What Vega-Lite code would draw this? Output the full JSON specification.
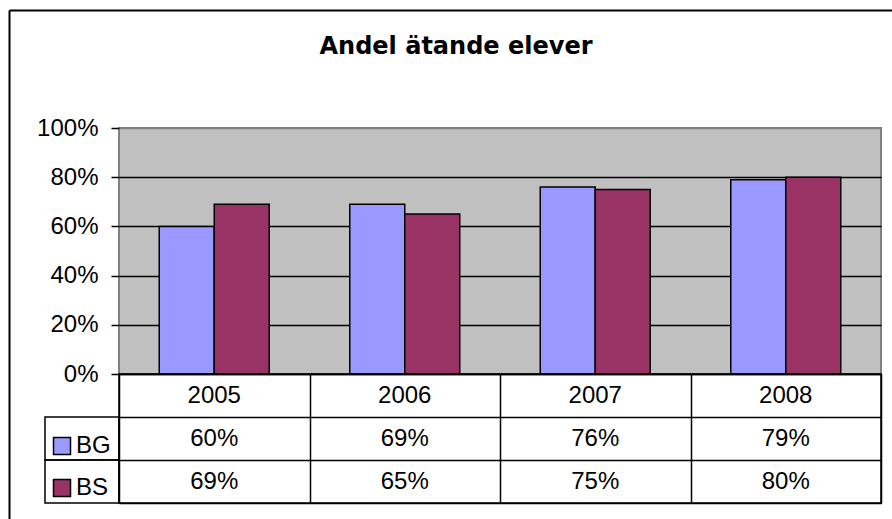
{
  "$schema": "https://vega.github.io/schema/vega-lite/v6.json",
  "autosize": {"type": "pad"},
  "padding": {"left": 9, "top": 10, "right": 0, "bottom": 0},
  "background": "white",
  "datasets": {
    "d": [
      {"year": "2005", "series": "BG", "value": 0.60},
      {"year": "2006", "series": "BG", "value": 0.69},
      {"year": "2007", "series": "BG", "value": 0.76},
      {"year": "2008", "series": "BG", "value": 0.79},
      {"year": "2005", "series": "BS", "value": 0.69},
      {"year": "2006", "series": "BS", "value": 0.65},
      {"year": "2007", "series": "BS", "value": 0.75},
      {"year": "2008", "series": "BS", "value": 0.80}
    ]
  },
  "data": {"name": "d"},
  "title": {"text": "Andel ätande elever", "fontSize": 24, "font": "DejaVu Sans", "fontWeight": "bold", "color": "black", "anchor": "middle", "offset": -49, "dx": -14},
  "columns": 2,
  "spacing": 0,
  "bounds": "flush",
  "align": "each",
  "resolve": {"scale": {"x": "independent", "y": "independent", "color": "shared"}},
  "config": {
    "font": "Liberation Sans",
    "axis": {"labelFont": "Liberation Sans", "labelFontSize": 24, "labelColor": "black"},
    "legend": {
      "orient": "none", "legendX": 5, "legendY": 306, "title": null,
      "symbolType": "square", "symbolSize": 289, "symbolStrokeColor": "black", "symbolStrokeWidth": 1.5,
      "labelFontSize": 24, "labelFont": "Liberation Sans", "labelColor": "black",
      "rowPadding": 18, "labelOffset": 2, "padding": 0
    }
  },
  "concat": [
    {
      "width": 74, "height": 246,
      "view": {"stroke": null},
      "mark": {"type": "text"},
      "encoding": {
        "text": {"value": ""},
        "x": {"field": "value", "type": "quantitative", "scale": {"domain": [0, 1], "range": [-36, 850]},
          "axis": {"orient": "top", "offset": 118, "labels": false, "ticks": false, "grid": false, "title": null, "domainColor": "black", "domainWidth": 2}},
        "y": {"field": "value", "type": "quantitative", "scale": {"domain": [0, 1], "range": [400, -118]},
          "axis": {"orient": "left", "offset": 36, "labels": false, "ticks": false, "grid": false, "title": null, "domainColor": "black", "domainWidth": 2}}
      }
    },
    {
      "width": 762, "height": 246,
      "view": {"fill": "#C0C0C0", "stroke": "#808080", "strokeWidth": 2},
      "mark": {"type": "bar", "stroke": "black", "strokeWidth": 1.5},
      "encoding": {
        "x": {"field": "year", "type": "nominal", "scale": {"paddingInner": 0, "paddingOuter": 0}, "axis": null},
        "xOffset": {"field": "series", "type": "nominal", "scale": {"domain": ["BG", "BS"], "paddingInner": 0, "paddingOuter": 0.732}},
        "y": {
          "field": "value", "type": "quantitative", "scale": {"domain": [0, 1]},
          "axis": {
            "values": [0, 0.2, 0.4, 0.6, 0.8, 1], "format": ".0%", "title": null,
            "grid": true, "gridWidth": 1.5,
            "gridColor": {"condition": {"test": "datum.value === 1", "value": "#808080"}, "value": "black"},
            "domain": false, "ticks": true, "tickColor": "black", "tickSize": 8, "tickWidth": 1.5,
            "labelPadding": 13
          }
        },
        "color": {"field": "series", "type": "nominal", "scale": {"domain": ["BG", "BS"], "range": ["#9999FF", "#993366"]}}
      }
    },
    {
      "width": 74, "height": 129,
      "view": {"stroke": null},
      "transform": [{"filter": "datum.year === '2005'"}],
      "mark": {"type": "rect", "fill": "transparent", "stroke": "black", "strokeWidth": 1.5},
      "encoding": {
        "y": {"field": "series", "type": "nominal", "scale": {"domain": ["hdr", "BG", "BS"], "paddingInner": 0, "paddingOuter": 0}, "axis": null}
      }
    },
    {
      "width": 762, "height": 129,
      "view": {"stroke": "black", "strokeWidth": 1.5},
      "encoding": {
        "x": {
          "field": "year", "type": "nominal", "scale": {"paddingInner": 0, "paddingOuter": 0},
          "axis": {"grid": true, "tickBand": "extent", "labels": false, "ticks": false, "domain": false, "gridColor": "black", "gridWidth": 1.5, "title": null}
        }
      },
      "layer": [
        {
          "transform": [{"filter": "datum.series === 'BG'"}],
          "mark": {"type": "text", "fontSize": 24, "font": "Liberation Sans", "color": "black"},
          "encoding": {
            "y": {"datum": "hdr", "type": "nominal", "scale": {"domain": ["hdr", "BG", "BS"], "paddingInner": 0, "paddingOuter": 0},
              "axis": {"grid": true, "tickBand": "extent", "labels": false, "ticks": false, "domain": false, "gridColor": "black", "gridWidth": 1.5, "title": null}},
            "text": {"field": "year"}
          }
        },
        {
          "mark": {"type": "text", "fontSize": 24, "font": "Liberation Sans", "color": "black"},
          "encoding": {
            "y": {"field": "series", "type": "nominal",
              "axis": {"grid": true, "tickBand": "extent", "labels": false, "ticks": false, "domain": false, "gridColor": "black", "gridWidth": 1.5, "title": null}},
            "text": {"field": "value", "type": "quantitative", "format": ".0%"}
          }
        }
      ]
    }
  ]
}
